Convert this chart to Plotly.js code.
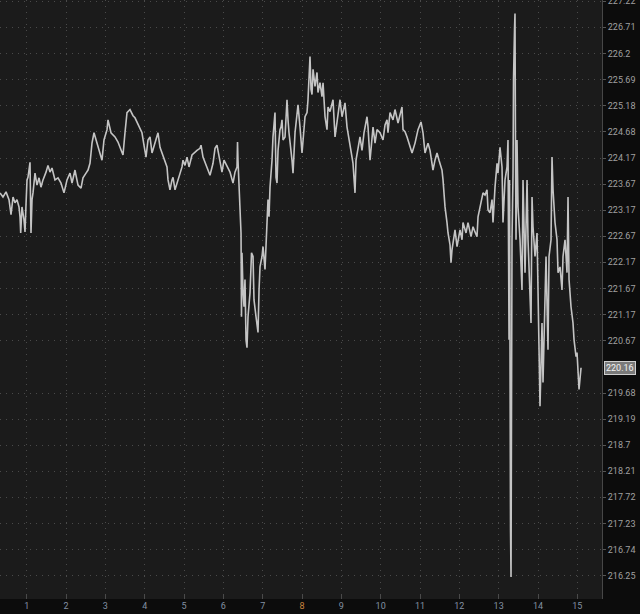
<!DOCTYPE html>
<html>
<head>
<meta charset="utf-8">
<script src="https://cdn.plot.ly/plotly-3.0.1.min.js"></script>
<style>
html,body{margin:0;padding:0;background:#0c0c0c;}
#chart{width:640px;height:614px;}
</style>
</head>
<body>
<div id="chart"></div>
<script>
// time in trading-day units (axis labels 1..15), price values
const time = [
0.321,0.397,0.474,0.550,0.601,0.652,0.702,0.753,0.804,0.830,0.847,0.880,0.931,0.957,0.982,1.008,1.033,1.084,1.109,1.135,
1.160,1.211,1.262,1.313,1.363,1.414,1.491,1.541,1.592,1.643,1.719,1.796,1.872,1.923,1.948,2.025,2.101,2.152,2.228,2.253,
2.304,2.381,2.431,2.508,2.559,2.609,2.660,2.711,2.762,2.813,2.864,2.914,2.965,3.042,3.067,3.143,3.245,3.321,3.372,3.448,
3.499,3.550,3.626,
3.703,3.753,3.830,3.881,3.931,3.982,4.008,4.033,4.084,4.135,4.186,4.262,4.338,4.389,4.415,4.465,4.516,4.567,4.593,4.643,
4.694,4.720,4.771,4.847,4.898,4.949,4.974,5.025,5.076,5.126,5.203,5.279,5.330,5.406,5.432,5.482,5.533,5.584,5.660,5.737,
5.788,5.838,5.889,5.915,5.965,6.016,6.093,6.169,6.245,6.296,6.347,6.360,6.372,6.398,6.423,6.449,6.461,6.474,6.499,6.525,
6.550,6.576,6.601,6.627,6.678,6.716,6.754,6.779,6.830,6.881,6.907,6.932,6.983,7.008,7.059,7.110,7.135,7.161,7.186,7.237,
7.262,7.313,7.339,7.364,7.390,7.440,7.466,7.491,7.517,7.568,7.618,7.644,7.669,7.745,7.771,7.822,7.898,7.949,8.000,8.076,
8.127,8.152,8.203,8.229,8.254,8.280,8.330,8.381,8.406,8.457,8.508,8.534,8.585,8.635,8.661,8.711,8.762,8.788,8.839,8.915,
8.966,9.017,9.093,9.144,9.220,9.271,9.296,9.347,9.373,9.424,9.474,9.525,9.576,9.652,9.678,9.729,9.779,9.805,9.856,9.907,
9.983,10.059,10.110,10.161,10.186,10.237,10.313,10.364,10.441,10.542,10.568,10.619,10.670,10.746,10.797,10.873,10.949,11.025,11.076,11.127,
11.203,11.254,11.330,11.381,11.432,11.483,11.559,11.585,11.636,11.686,11.712,11.763,11.788,11.814,11.890,11.941,12.017,12.068,12.093,12.170,
12.220,12.297,12.348,12.398,12.449,12.475,12.525,12.602,12.653,12.703,12.729,12.780,12.831,12.856,12.907,12.958,12.983,13.034,13.085,13.110,
13.161,13.212,13.237,13.263,13.276,13.288,13.301,13.314,13.326,13.339,13.365,13.377,13.403,13.415,13.428,13.441,13.466,13.492,13.543,13.593,
13.619,13.670,13.721,13.746,13.822,13.848,13.873,13.924,13.975,14.000,14.051,14.102,14.127,14.153,14.204,14.254,14.280,14.331,14.356,14.382,
14.432,14.483,14.509,14.560,14.610,14.636,14.687,14.738,14.763,14.789,14.839,14.890,14.916,14.967,14.992,15.043,15.068,15.094
];
const price = [
223.50,223.42,223.52,223.37,223.08,223.42,223.31,223.37,223.23,223.04,222.73,223.23,222.98,222.75,223.27,223.75,223.80,224.09,222.73,223.37,
223.50,223.88,223.65,223.79,223.61,223.75,223.90,224.03,223.90,223.98,223.75,223.79,223.69,223.56,223.50,223.75,223.88,223.69,223.94,223.84,
223.65,223.59,223.79,223.88,223.94,224.07,224.46,224.66,224.52,224.38,224.29,224.13,224.52,224.72,224.91,224.66,224.58,224.48,224.38,224.23,
224.66,225.05,225.11,
224.99,224.95,224.81,224.75,224.66,224.42,224.32,224.19,224.52,224.58,224.27,224.46,224.66,224.38,224.32,224.19,224.09,224.00,223.75,223.56,
223.75,223.80,223.56,223.75,223.90,224.00,224.13,224.03,224.19,224.00,224.23,224.29,224.32,224.36,224.42,224.19,224.09,224.00,223.84,224.07,
224.36,224.42,224.23,224.13,223.90,224.13,224.00,223.90,223.69,223.90,224.00,224.48,224.13,223.75,223.23,222.73,221.13,222.35,221.64,221.32,
221.84,220.69,220.54,221.13,221.59,222.35,222.28,221.45,221.13,220.83,221.64,222.08,222.28,222.47,222.03,222.85,223.37,223.04,223.61,224.13,
224.58,225.05,223.80,223.69,224.32,224.72,224.77,224.91,224.52,224.58,225.30,224.91,224.66,224.13,223.88,224.66,225.20,224.77,224.27,224.97,
225.05,225.30,226.14,225.50,225.40,225.89,225.56,225.83,225.44,225.63,225.36,225.63,224.97,224.72,225.16,225.07,225.24,225.30,224.58,225.05,
225.30,224.97,225.24,224.77,224.46,224.19,224.07,223.50,224.13,224.38,224.58,224.32,224.66,224.97,224.77,224.13,224.66,224.77,224.46,224.72,
224.66,224.52,224.81,224.91,224.66,225.05,224.91,225.11,224.85,225.16,224.72,224.68,224.58,224.38,224.27,224.46,224.72,224.87,224.66,224.27,
224.46,224.32,223.94,224.13,224.27,224.13,223.94,223.75,223.23,222.93,222.73,222.50,222.16,222.41,222.79,222.47,222.79,222.60,222.93,222.73,
222.93,222.66,222.85,222.75,222.66,223.04,223.23,223.50,223.46,223.56,223.17,223.12,223.37,222.93,223.61,224.07,223.88,224.38,224.00,222.93,
223.75,224.00,224.52,220.69,223.75,218.81,217.11,216.23,221.45,222.60,223.88,225.69,226.67,226.98,224.32,222.60,224.52,223.23,222.60,221.64,
223.75,221.97,223.75,222.60,221.01,223.42,222.85,222.28,222.73,221.45,219.43,221.01,219.88,220.69,222.28,220.50,222.28,222.60,224.19,223.56,
222.93,222.60,221.97,222.08,221.64,222.28,222.60,221.97,223.42,221.84,221.32,221.01,220.69,220.37,220.45,219.75,220.03,220.16
];
const dayTicks = [1,2,3,4,5,6,7,8,9,10,11,12,13,14,15];
const dayLabels = ['1','2','3','4','5','6','7','<span style="color:#c9843f">8</span>','9','10','11','12','13','14','15'];
const priceTicks = [216.25,216.74,217.23,217.72,218.21,218.7,219.19,219.68,220.67,221.17,221.67,222.17,222.67,223.17,223.67,224.17,224.68,225.18,225.69,226.2,226.71,227.22];
const priceLabels = ['216.25','216.74','217.23','217.72','218.21','218.7','219.19','219.68','220.67','221.17','221.67','222.17','222.67','223.17','223.67','224.17','224.68','225.18','225.69','226.2','226.71','227.22'];
const lastPrice = 220.16;

const trace = {
  x: time, y: price, type: 'scatter', mode: 'lines',
  line: {color: '#c4c4c4', width: 1.6},
  hoverinfo: 'skip'
};

const layout = {
  width: 640, height: 614,
  margin: {l: 0, r: 38, t: 0, b: 15, pad: 0},
  paper_bgcolor: '#0c0c0c',
  plot_bgcolor: '#1b1b1b',
  showlegend: false,
  font: {family: 'Roboto, "DejaVu Sans", sans-serif', size: 9, color: '#9a9a9a'},
  xaxis: {
    range: [0.321, 15.627],
    tickmode: 'array', tickvals: dayTicks, ticktext: dayLabels,
    showgrid: true, gridcolor: '#4a4a4a', griddash: '1px,5px', gridwidth: 1,
    zeroline: false, showline: false,
    ticks: 'inside', ticklen: 4, tickcolor: '#4a4a4a',
    tickfont: {size: 9, color: '#8391a3'},
    fixedrange: true
  },
  yaxis: {
    type: 'log', side: 'right',
    range: [Math.log10(215.82), Math.log10(227.243)],
    tickmode: 'array', tickvals: priceTicks, ticktext: priceLabels,
    showgrid: true, gridcolor: '#4a4a4a', griddash: '1px,5px', gridwidth: 1,
    zeroline: false, showline: true, linecolor: '#474747', linewidth: 1,
    ticks: 'outside', ticklen: 3, tickcolor: '#555555',
    tickfont: {size: 9, color: '#a0a0a0'},
    ticklabeloverflow: 'allow',
    fixedrange: true
  },
  annotations: [{
    xref: 'paper', yref: 'y', x: 1, y: Math.log10(lastPrice),
    xanchor: 'left', yanchor: 'middle', xshift: 2,
    text: lastPrice.toFixed(2), showarrow: false,
    font: {size: 9, color: '#f2f2f2'},
    bgcolor: '#7a7a7a', bordercolor: '#cfcfcf', borderwidth: 1, borderpad: 1
  }]
};

Plotly.newPlot('chart', [trace], layout, {displayModeBar: false, staticPlot: true});
</script>
</body>
</html>
